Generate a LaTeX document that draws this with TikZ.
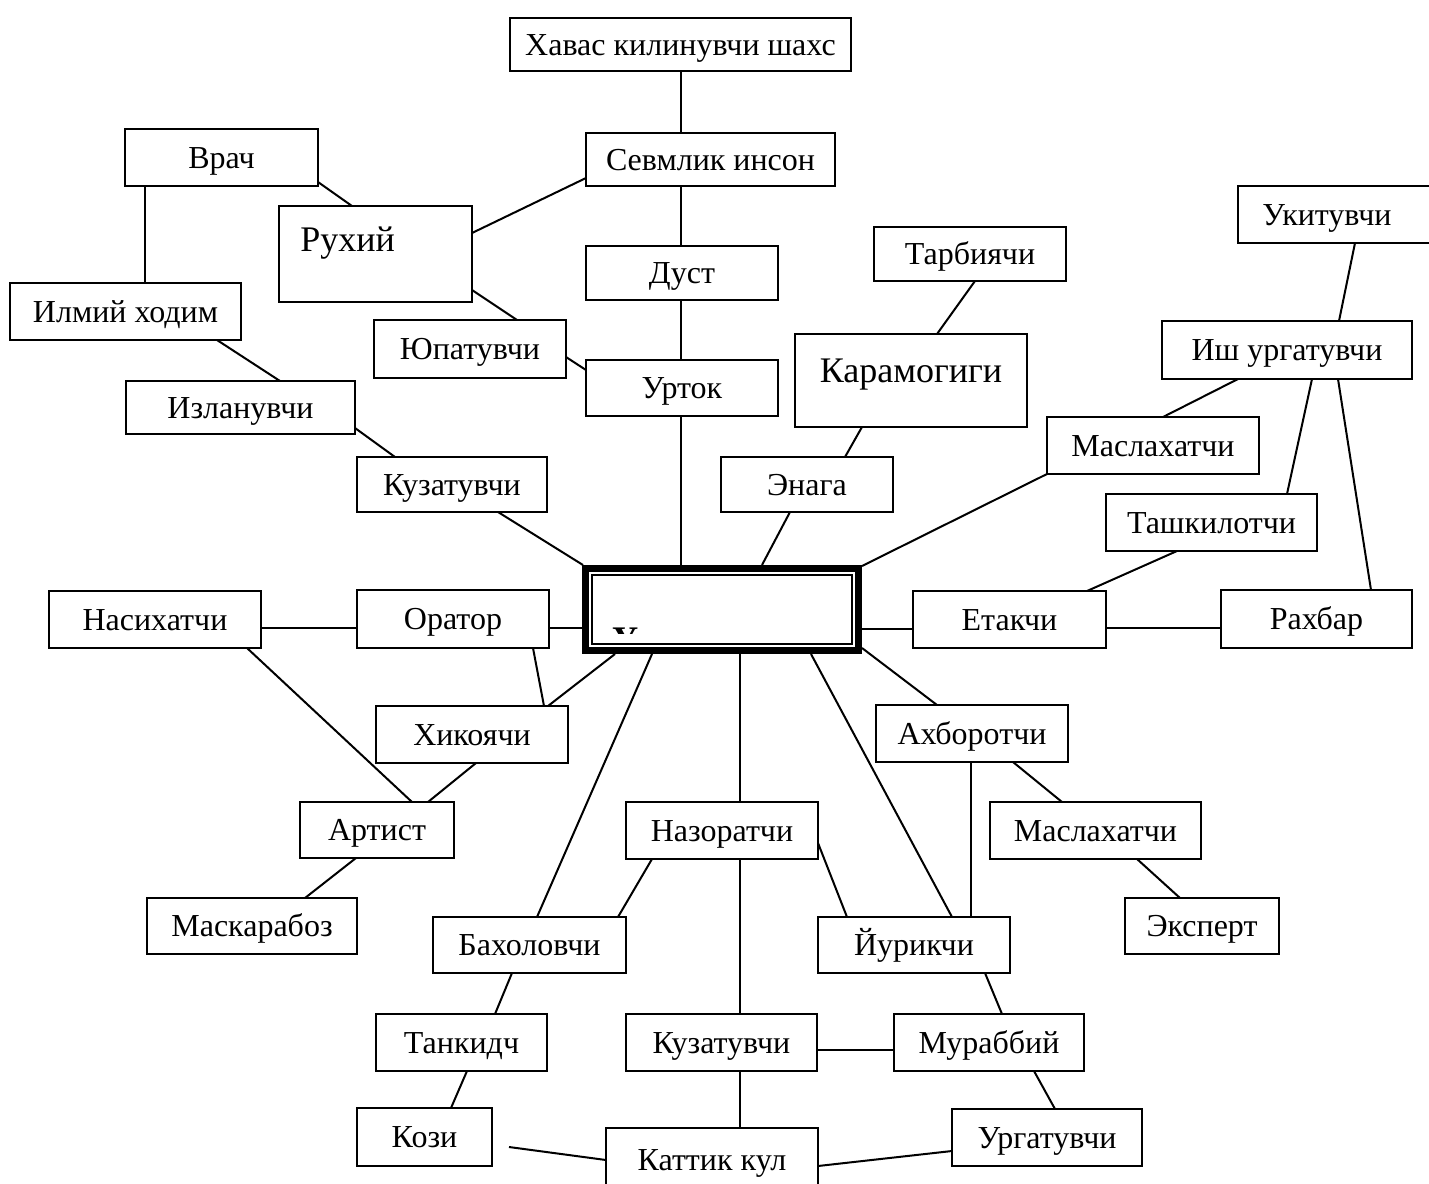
\documentclass[tikz,border=0pt]{standalone}
\usepackage{fontspec}
\setmainfont{Liberation Serif}
\tikzset{
  box/.style={draw, line width=1.5pt, inner sep=0pt, outer sep=0pt,
    font=\fontsize{24}{28}\selectfont, text height=15.9pt, text depth=0pt},
  plainbox/.style={draw, line width=1.5pt, inner sep=0pt, outer sep=0pt},
  bigtext/.style={inner sep=0pt, font=\fontsize{27}{32}\selectfont},
  link/.style={line width=1.5pt}
}
% box by its corner pixels: name, x1, y1, x2, y2, text
\newcommand\mkbox[6]{\node[box, minimum width={(#4-#2)*0.75pt}, minimum height={(#5-#3)*0.75pt}] (#1) at ({(#2+#4)/2},{(#3+#5)/2}) {#6};}
\newcommand\mkframe[5]{\node[plainbox, minimum width={(#4-#2)*0.75pt}, minimum height={(#5-#3)*0.75pt}] (#1) at ({(#2+#4)/2},{(#3+#5)/2}) {};}
% connector between points given relative to each box's top-left corner
\newcommand\mklink[6]{\draw[link] ([shift={(#2,#3)}]#1.north west) -- ([shift={(#5,#6)}]#4.north west);}
\begin{document}
\begin{tikzpicture}[x=0.75pt, y=-0.75pt]
\clip (0,0) rectangle (1429,1183);
\fill[white] (0,0) rectangle (1429,1183);

% boxes
\mkbox{hav}{510}{18}{851}{71}{Хавас килинувчи шахс}
\mkbox{sev}{586}{133}{835}{186}{Севмлик инсон}
\mkbox{vrach}{125}{129}{318}{186}{Врач}
\mkframe{ruh}{279}{206}{472}{302}
\node[bigtext, anchor=base west] (ruhtext) at (300,251) {Рухий};
\mkbox{ilm}{10}{283}{241}{340}{Илмий ходим}
\mkbox{dust}{586}{246}{778}{300}{Дуст}
\mkbox{tarb}{874}{227}{1066}{281}{Тарбиячи}
\mkframe{ukit}{1238}{186}{1445}{243}
\node[box, draw=none] (ukittext) at (1327,214.5) {Укитувчи};
\mkbox{yuat}{374}{320}{566}{378}{Юпатувчи}
\mkbox{urt}{586}{360}{778}{416}{Урток}
\mkframe{kar}{795}{334}{1027}{427}
\node[bigtext, anchor=base] (kartext) at (911,382) {Карамогиги};
\mkbox{ish}{1162}{321}{1412}{379}{Иш ургатувчи}
\mkbox{izl}{126}{381}{355}{434}{Изланувчи}
\mkbox{masl1}{1047}{417}{1259}{474}{Маслахатчи}
\mkbox{kuz1}{357}{457}{547}{512}{Кузатувчи}
\mkbox{enaga}{721}{457}{893}{512}{Энага}
\mkbox{tash}{1106}{494}{1317}{551}{Ташкилотчи}
\mkbox{nas}{49}{591}{261}{648}{Насихатчи}
\mkbox{orat}{357}{590}{549}{648}{Оратор}
\mkbox{etak}{913}{591}{1106}{648}{Етакчи}
\mkbox{rah}{1221}{590}{1412}{648}{Рахбар}
\mkbox{hik}{376}{706}{568}{763}{Хикоячи}
\mkbox{ahb}{876}{705}{1068}{762}{Ахборотчи}
\mkbox{art}{300}{802}{454}{858}{Артист}
\mkbox{naz}{626}{802}{818}{859}{Назоратчи}
\mkbox{masl2}{990}{802}{1201}{859}{Маслахатчи}
\mkbox{mask}{147}{898}{357}{954}{Маскарабоз}
\mkbox{bah}{433}{917}{626}{973}{Бахоловчи}
\mkbox{yur}{818}{917}{1010}{973}{Йурикчи}
\mkbox{eksp}{1125}{898}{1279}{954}{Эксперт}
\mkbox{tank}{376}{1014}{547}{1071}{Танкидч}
\mkbox{kuz2}{626}{1014}{817}{1071}{Кузатувчи}
\mkbox{mur}{894}{1014}{1084}{1071}{Мураббий}
\mkbox{kozi}{357}{1108}{492}{1166}{Кози}
\node[box, minimum width={(818-606)*0.75pt}, minimum height={(1218-1128)*0.75pt}] (katt) at (712,1173) {};
\node[box, draw=none] (katttext) at (712,1160) {Каттик кул};
\mkbox{urg}{952}{1109}{1142}{1166}{Ургатувчи}

% central box: heavy frame with a thin inner frame
\node[inner sep=0pt, outer sep=0pt, minimum width={(862-582)*0.75pt}, minimum height={(654-565)*0.75pt}] (cen) at (722,609.5) {};
\draw[line width=4.9pt] ([shift={(3.25,3.25)}]cen.north west) rectangle ([shift={(-3.25,-3.25)}]cen.south east);
\draw[line width=1.5pt] ([shift={(10,10)}]cen.north west) rectangle ([shift={(-10,-10)}]cen.south east);
\begin{scope}
  \clip (605,626.5) rectangle (645,633);
  \node[inner sep=0pt, anchor=base, font=\fontsize{27}{32}\selectfont\bfseries] (cenglyph) at (625,651) {У};
\end{scope}

% connectors
\mklink{hav}{171}{53}{sev}{95}{0}
\mklink{sev}{95}{53}{dust}{95}{0}
\mklink{dust}{95}{54}{urt}{95}{0}
\mklink{urt}{95}{56}{cen}{99}{0}
\mklink{sev}{0}{45}{ruh}{193}{27}
\mklink{vrach}{193}{53}{ruh}{73}{0}
\mklink{vrach}{20}{57}{ilm}{135}{0}
\mklink{ruh}{193}{84}{yuat}{143}{0}
\mklink{yuat}{192}{37}{urt}{0}{10}
\mklink{ilm}{207}{57}{izl}{154}{0}
\mklink{izl}{229}{47}{kuz1}{38}{0}
\mklink{kuz1}{141}{55}{cen}{1}{0}
\mklink{tarb}{101}{54}{kar}{142}{0}
\mklink{kar}{67}{93}{enaga}{124}{0}
\mklink{enaga}{69}{55}{cen}{180}{0}
\mklink{masl1}{0}{57}{cen}{280}{1}
\mklink{ukit}{117}{57}{ish}{177}{0}
\mklink{ish}{76}{58}{masl1}{116}{0}
\mklink{ish}{150}{58}{tash}{181}{0}
\mklink{ish}{176}{58}{rah}{150}{0}
\mklink{tash}{71}{57}{etak}{174}{0}
\mklink{cen}{280}{64}{etak}{0}{38}
\mklink{etak}{193}{37}{rah}{0}{38}
\mklink{nas}{212}{37}{orat}{0}{38}
\mklink{orat}{192}{38}{cen}{0}{63}
\mklink{orat}{176}{58}{hik}{168}{0}
\mklink{cen}{33}{89}{hik}{172}{0}
\mklink{nas}{198}{57}{art}{112}{0}
\mklink{hik}{100}{57}{art}{128}{0}
\mklink{art}{56}{56}{mask}{158}{0}
\mklink{cen}{70}{89}{bah}{104}{0}
\mklink{cen}{158}{89}{naz}{114}{0}
\mklink{cen}{229}{89}{yur}{134}{0}
\mklink{cen}{280}{83}{ahb}{61}{0}
\mklink{ahb}{95}{57}{yur}{153}{0}
\mklink{ahb}{137}{57}{masl2}{72}{0}
\mklink{masl2}{147}{57}{eksp}{55}{0}
\mklink{naz}{26}{57}{bah}{185}{0}
\mklink{naz}{192}{41}{yur}{29}{0}
\mklink{naz}{114}{57}{kuz2}{114}{0}
\mklink{bah}{79}{56}{tank}{119}{0}
\mklink{yur}{167}{56}{mur}{108}{0}
\mklink{kuz2}{191}{36}{mur}{0}{36}
\mklink{tank}{91}{57}{kozi}{94}{0}
\mklink{kuz2}{114}{57}{katt}{134}{0}
\coordinate (koziend) at (509,1147);
\draw[link] (koziend) -- ([shift={(0,32)}]katt.north west);
\mklink{katt}{212}{38}{urg}{0}{42}
\mklink{mur}{140}{57}{urg}{103}{0}
\end{tikzpicture}
\end{document}
